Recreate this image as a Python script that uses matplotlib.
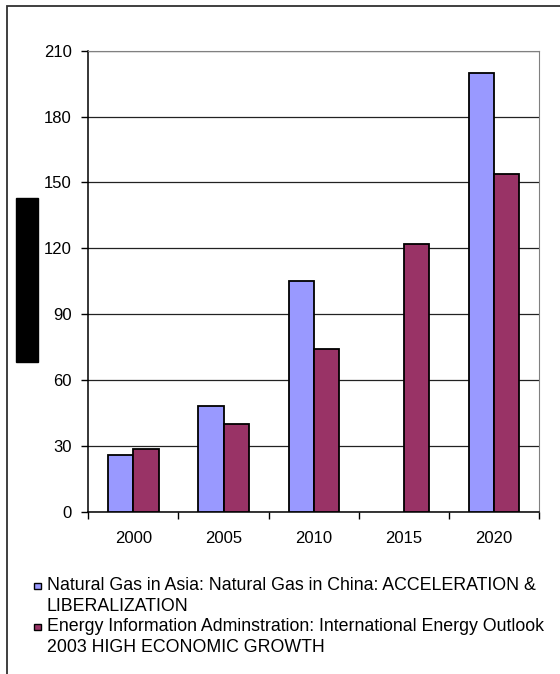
import numpy as np
import matplotlib
matplotlib.use("Agg")
import matplotlib.pyplot as plt
from matplotlib.patches import Rectangle

# values
years = ["2000", "2005", "2010", "2015", "2020"]
asia_gas = [26, 48, 105, np.nan, 200]
eia_high = [28.5, 40, 74, 122, 154]
series_names = ["Natural Gas in Asia: Natural Gas in China: ACCELERATION &\nLIBERALIZATION",
                "Energy Information Adminstration: International Energy Outlook\n2003 HIGH ECONOMIC GROWTH"]
y_ticks = [0, 30, 60, 90, 120, 150, 180, 210]

plt.rcParams["font.family"] = ["Liberation Sans", "DejaVu Sans"]

W, H = 560, 674
fig = plt.figure(figsize=(W / 100, H / 100), dpi=100)

def px(x0, y0, x1, y1):
    """pixel box (top-left origin) -> figure fraction rect"""
    return [x0 / W, 1 - y1 / H, (x1 - x0) / W, (y1 - y0) / H]

ax = fig.add_axes(px(88.3, 50.7, 539.3, 511.7))

colors = ["#9999ff", "#993366"]
x = np.arange(len(years))
bw = 0.28
ax.bar(x - bw / 2, asia_gas, bw, color=colors[0], edgecolor="black", linewidth=1.3, zorder=3)
ax.bar(x + bw / 2, eia_high, bw, color=colors[1], edgecolor="black", linewidth=1.3, zorder=3)

ax.set_xlim(-0.5, len(years) - 0.5)
ax.set_ylim(0, 210)
ax.set_yticks(y_ticks)
ax.yaxis.grid(True, color="#222222", linewidth=0.9)
ax.set_axisbelow(True)

# category ticks sit between groups, labels in the middle
ax.set_xticks(np.arange(-0.5, len(years), 1))
ax.set_xticklabels([])
ax.set_xticks(x, minor=True)
ax.set_xticklabels(years, minor=True)
ax.tick_params(axis="x", which="minor", length=0, pad=14, labelsize=12)
ax.tick_params(axis="x", which="major", length=5, width=1, direction="out")
ax.tick_params(axis="y", length=5, width=1, pad=7, labelsize=12)
for s in ["top", "right"]:
    ax.spines[s].set_color("#808080")
for s in ["left", "bottom"]:
    ax.spines[s].set_linewidth(1.1)

# redacted axis title block
fig.patches.append(Rectangle(px(16, 198.3, 38, 361.7)[:2], 22 / W, (361.7 - 198.3) / H,
                             transform=fig.transFigure, color="black"))

# outer chart border (runs off right and bottom)
fig.patches.append(Rectangle((6.7 / W, -0.05), 1.2, 1 - 5.7 / H + 0.05,
                             transform=fig.transFigure, fill=False,
                             edgecolor="#303030", linewidth=1.3))

# legend
line_y = [[586, 606.7], [626.7, 647]]
for i, name in enumerate(series_names):
    y0 = line_y[i][0]
    fig.patches.append(Rectangle(((34.3) / W, 1 - (y0 + 3.4) / H), 6.6 / W, 6.6 / H,
                                 transform=fig.transFigure, facecolor=colors[i],
                                 edgecolor="black", linewidth=1.0))
    for j, line in enumerate(name.split("\n")):
        fig.text(46.7 / W, 1 - line_y[i][j] / H, line, fontsize=12.8,
                 ha="left", va="center")

fig.savefig("out.png", dpi=100)
